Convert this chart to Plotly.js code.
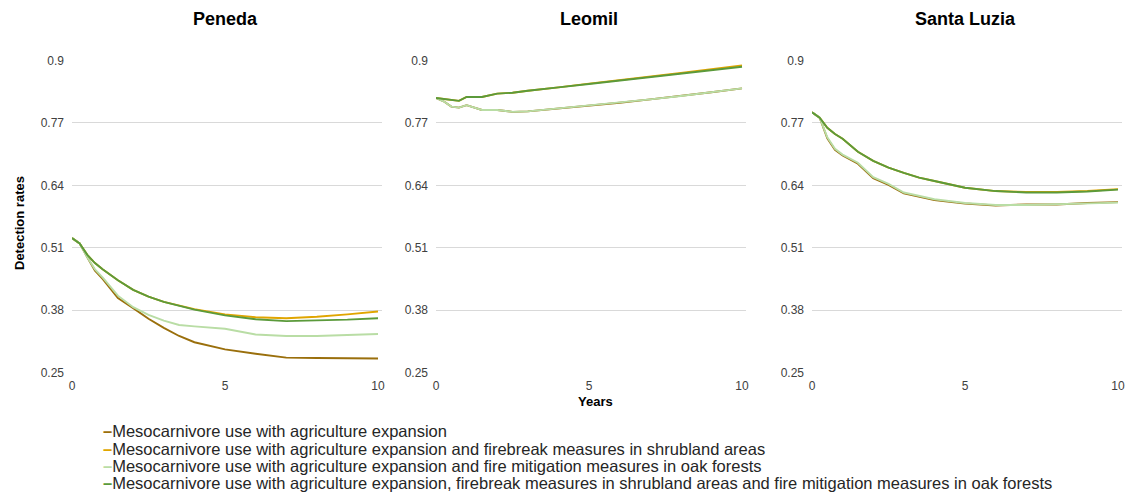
<!DOCTYPE html>
<html>
<head>
<meta charset="utf-8">
<script src="https://cdn.plot.ly/plotly-3.0.1.min.js"></script>
<style>
  html, body { margin: 0; padding: 0; background: #ffffff; }
  #chart { width: 1129px; height: 494px; }
</style>
</head>
<body>
<div id="chart"></div>
<script>
// ---- Data ----
const years = [0, 0.25, 0.5, 0.75, 1, 1.5, 2, 2.5, 3, 3.5, 4, 5, 6, 7, 8, 9, 10];

const sites = ["Peneda", "Leomil", "Santa Luzia"];

const seriesNames = [
  "Mesocarnivore use with agriculture expansion",
  "Mesocarnivore use with agriculture expansion and firebreak measures in shrubland areas",
  "Mesocarnivore use with agriculture expansion and fire mitigation measures in oak forests",
  "Mesocarnivore use with agriculture expansion, firebreak measures in shrubland areas and fire mitigation measures in oak forests"
];

const yTicks = [0.25, 0.38, 0.51, 0.64, 0.77, 0.9];
const xTicks = [0, 5, 10];

// Peneda
const penedaAgri      = [0.530, 0.519, 0.490, 0.462, 0.445, 0.405, 0.384, 0.362, 0.343, 0.326, 0.313, 0.298, 0.289, 0.281, 0.280, 0.280, 0.279];
const penedaFirebreak = [0.530, 0.519, 0.495, 0.478, 0.465, 0.442, 0.422, 0.408, 0.397, 0.390, 0.382, 0.371, 0.365, 0.363, 0.366, 0.371, 0.377];
const penedaOak       = [0.530, 0.519, 0.490, 0.465, 0.448, 0.410, 0.386, 0.370, 0.358, 0.349, 0.346, 0.341, 0.329, 0.326, 0.326, 0.328, 0.330];
const penedaCombined  = [0.530, 0.519, 0.495, 0.478, 0.465, 0.442, 0.422, 0.408, 0.397, 0.389, 0.381, 0.369, 0.361, 0.357, 0.358, 0.360, 0.363];

// Leomil
const leomilAgri      = [0.822, 0.815, 0.804, 0.802, 0.807, 0.797, 0.797, 0.793, 0.794, 0.797, 0.799, 0.806, 0.812, 0.819, 0.826, 0.834, 0.842];
const leomilFirebreak = [0.822, 0.820, 0.817, 0.816, 0.824, 0.824, 0.831, 0.833, 0.837, 0.840, 0.844, 0.852, 0.859, 0.867, 0.874, 0.882, 0.890];
const leomilOak       = [0.822, 0.815, 0.804, 0.802, 0.807, 0.797, 0.797, 0.793, 0.794, 0.797, 0.800, 0.806, 0.812, 0.819, 0.826, 0.834, 0.842];
const leomilCombined  = [0.822, 0.820, 0.817, 0.816, 0.824, 0.824, 0.831, 0.833, 0.837, 0.840, 0.844, 0.851, 0.858, 0.866, 0.873, 0.880, 0.887];

// Santa Luzia
const luziaAgri       = [0.792, 0.781, 0.738, 0.714, 0.702, 0.685, 0.655, 0.641, 0.623, 0.616, 0.609, 0.602, 0.598, 0.600, 0.600, 0.603, 0.605];
const luziaFirebreak  = [0.792, 0.781, 0.760, 0.747, 0.737, 0.710, 0.691, 0.677, 0.666, 0.656, 0.649, 0.635, 0.628, 0.626, 0.626, 0.628, 0.632];
const luziaOak        = [0.792, 0.781, 0.740, 0.716, 0.704, 0.687, 0.657, 0.643, 0.625, 0.618, 0.611, 0.603, 0.599, 0.599, 0.601, 0.603, 0.604];
const luziaCombined   = [0.792, 0.781, 0.760, 0.747, 0.737, 0.710, 0.691, 0.677, 0.666, 0.656, 0.649, 0.635, 0.628, 0.625, 0.625, 0.627, 0.631];

// ---- Styles ----
const seriesColors = ["#9a6f0c", "#e0a500", "#b9dda5", "#5b9a3b"];
const panelValues = [
  [penedaAgri, penedaFirebreak, penedaOak, penedaCombined],
  [leomilAgri, leomilFirebreak, leomilOak, leomilCombined],
  [luziaAgri, luziaFirebreak, luziaOak, luziaCombined]
];

const W = 1129, H = 494;
const panelPx = [[72, 382], [436, 746], [812, 1122]];
const plotTop = 60.3, plotBottom = 372.7;
const FONT = "Liberation Sans, Arial, sans-serif";

const traces = [];
panelValues.forEach((vals, p) => {
  vals.forEach((v, s) => {
    traces.push({
      x: years,
      y: v,
      type: "scatter",
      mode: "lines",
      name: seriesNames[s],
      showlegend: false,
      hoverinfo: "skip",
      xaxis: p === 0 ? "x" : "x" + (p + 1),
      yaxis: p === 0 ? "y" : "y" + (p + 1),
      line: { color: seriesColors[s], width: 1.9 }
    });
  });
});

const tickFont = { family: FONT, size: 12, color: "#404040" };
const layout = {
  width: W, height: H,
  margin: { l: 0, r: 0, t: 0, b: 0 },
  paper_bgcolor: "#ffffff",
  plot_bgcolor: "#ffffff",
  showlegend: false,
  annotations: [],
  font: { family: FONT }
};

panelPx.forEach((px, p) => {
  const sx = p === 0 ? "" : String(p + 1);
  layout["xaxis" + sx] = {
    domain: [px[0] / W, px[1] / W],
    range: [0, 10.13],
    tickvals: xTicks,
    ticktext: xTicks.map(String),
    showgrid: false,
    zeroline: false,
    showline: false,
    ticks: "",
    ticklabelstandoff: 4,
    tickfont: tickFont,
    anchor: "y" + sx,
    fixedrange: true
  };
  layout["yaxis" + sx] = {
    domain: [1 - plotBottom / H, 1 - plotTop / H],
    range: [0.2495, 0.9005],
    tickvals: yTicks,
    ticktext: yTicks.map(String),
    showgrid: true,
    gridcolor: "#d9d9d9",
    gridwidth: 1,
    zeroline: false,
    showline: false,
    ticks: "",
    ticklabelstandoff: 7,
    tickfont: tickFont,
    anchor: "x" + sx,
    fixedrange: true
  };
  layout.annotations.push({
    text: "<b>" + sites[p] + "</b>",
    xref: "x" + sx, x: 5,
    yref: "paper", y: 1 - 19 / H,
    xanchor: "center", yanchor: "middle",
    showarrow: false,
    font: { family: FONT, size: 18, color: "#000000" }
  });
});

layout.annotations.push({
  text: "<b>Detection rates</b>",
  xref: "paper", x: 19 / W,
  yref: "paper", y: 1 - 223 / H,
  xanchor: "center", yanchor: "middle",
  textangle: -90,
  showarrow: false,
  font: { family: FONT, size: 13, color: "#000000" }
});
layout.annotations.push({
  text: "<b>Years</b>",
  xref: "paper", x: 595 / W,
  yref: "paper", y: 1 - 401 / H,
  xanchor: "center", yanchor: "middle",
  showarrow: false,
  font: { family: FONT, size: 13, color: "#000000" }
});

const legendRows = [431, 448.5, 465.5, 482.5];
seriesNames.forEach((name, s) => {
  layout.annotations.push({
    text: '<span style="color:' + seriesColors[s] + '"><b>–</b></span>' + name,
    xref: "paper", x: 101 / W,
    yref: "paper", y: 1 - legendRows[s] / H,
    xanchor: "left", yanchor: "middle",
    align: "left",
    showarrow: false,
    font: { family: FONT, size: 16.5, color: "#262626" }
  });
});

Plotly.newPlot("chart", traces, layout, { staticPlot: true, displayModeBar: false });
</script>
</body>
</html>
